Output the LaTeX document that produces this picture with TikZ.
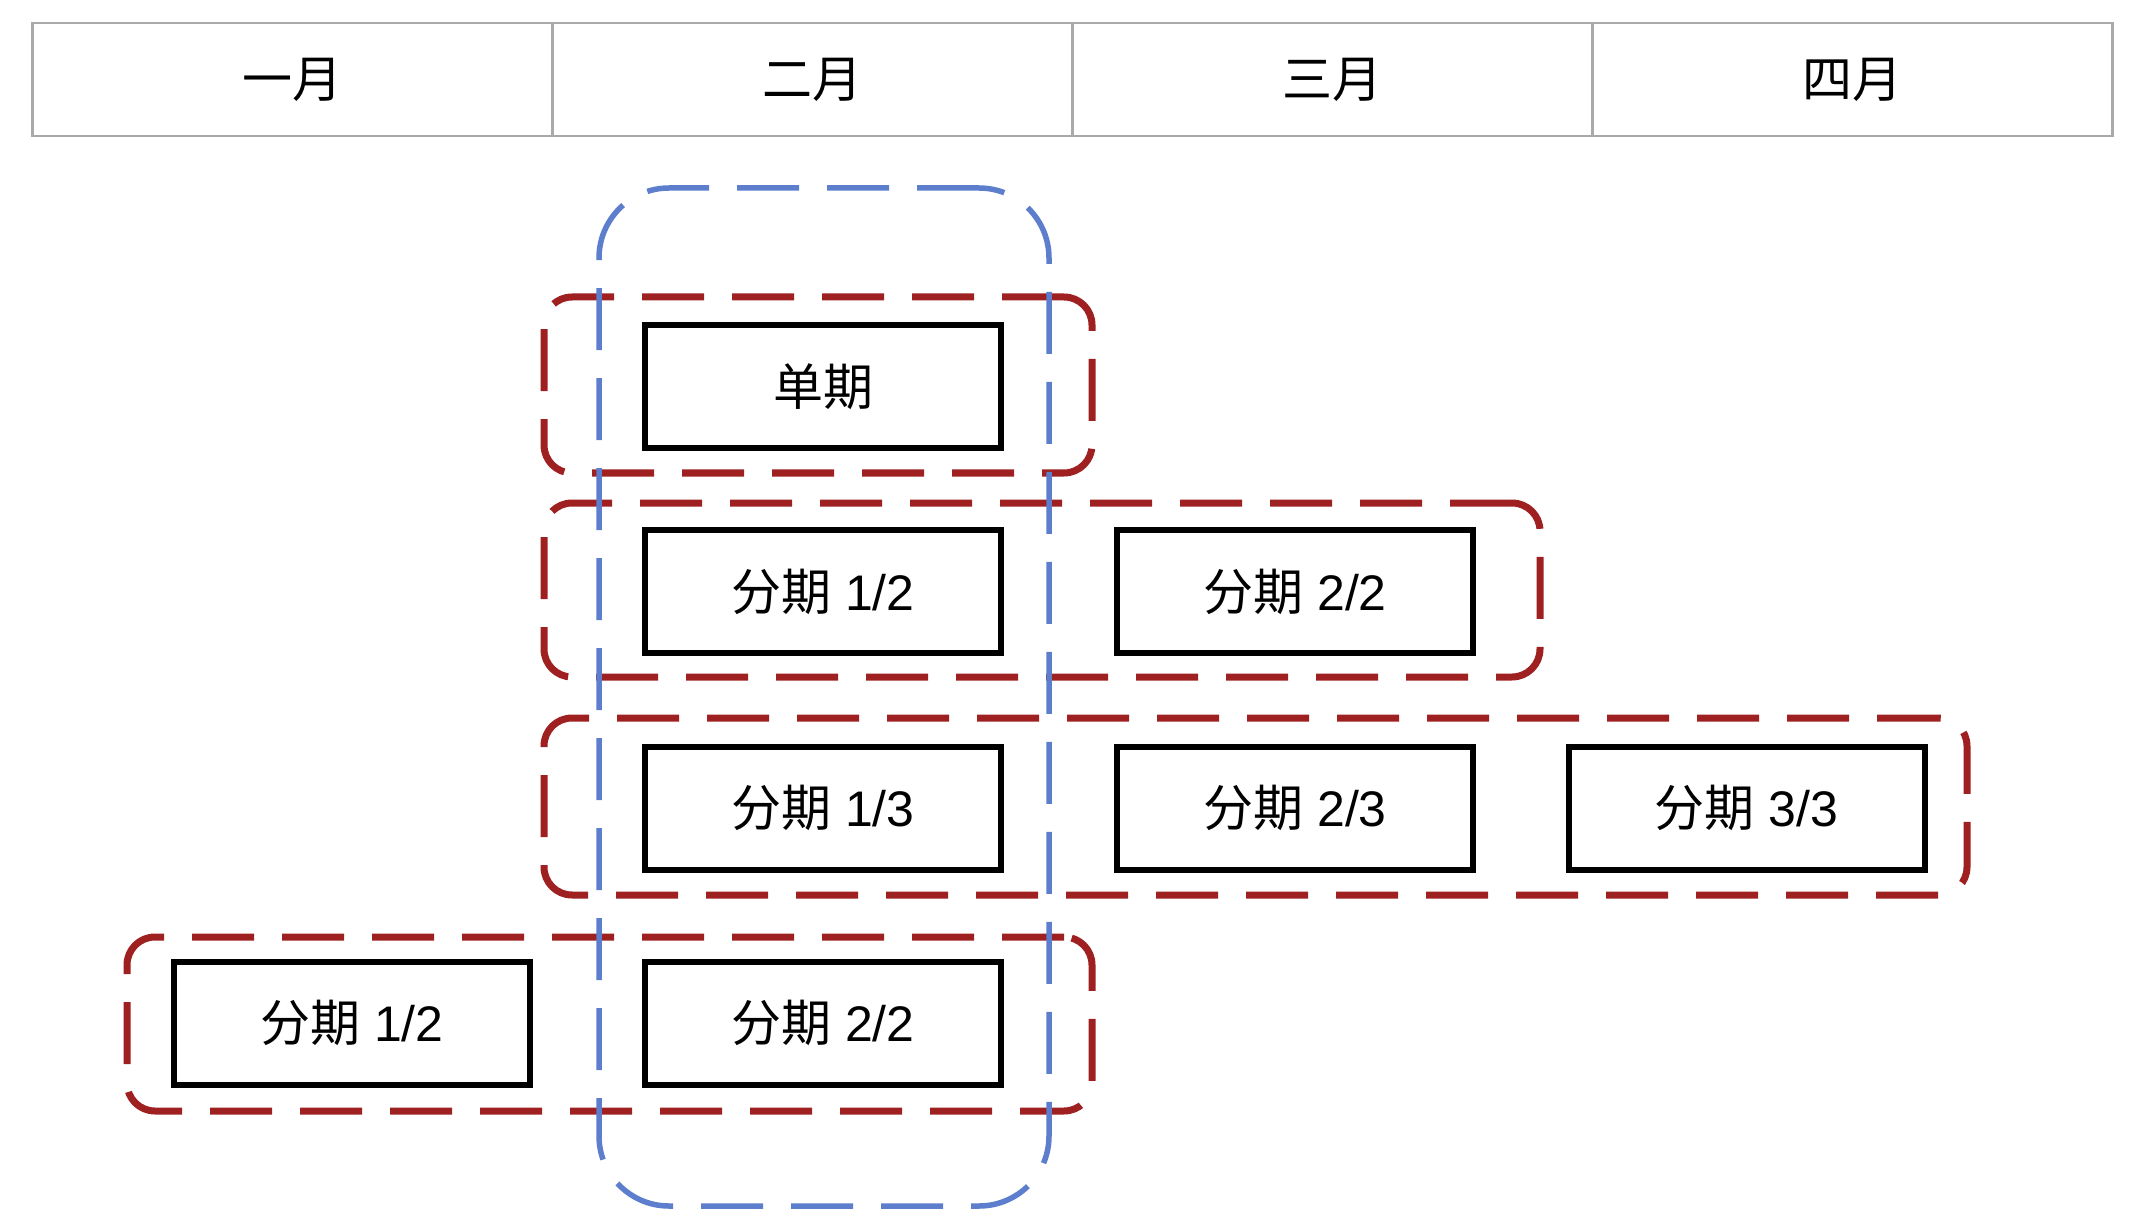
\documentclass[tikz,border=0pt]{standalone}
\usepackage{fontspec}
\setmainfont{Liberation Sans}
\newfontfamily\cjk{Noto Sans CJK SC}
\definecolor{grpred}{RGB}{158,32,32}
\definecolor{grpblue}{RGB}{92,126,204}
\definecolor{hdrgray}{RGB}{170,170,170}
\begin{document}
\begin{tikzpicture}[x=1pt,y=-1pt,
  hdrcell/.style={draw=hdrgray,line width=2.5pt,minimum width=520pt,minimum height=113pt,inner sep=0pt,font=\fontsize{50}{54}\selectfont\cjk},
  itembox/.style={draw=black,line width=6pt,fill=white,minimum width=356pt,minimum height=123pt,inner sep=0pt,font=\fontsize{50}{54}\selectfont},
  redgrp/.style={draw=grpred,line width=7pt,dash pattern=on 62pt off 28pt,rounded corners=28pt,inner sep=0pt},
  bluegrp/.style={draw=grpblue,line width=5.5pt,dash pattern=on 62pt off 28pt,rounded corners=70pt,inner sep=0pt}]
\useasboundingbox (0,0) rectangle (2148,1214);
% header
\node[hdrcell] (m1) at (292.5,79.5) {\raisebox{-3pt}{一月}};
\node[hdrcell] (m2) at (812.5,79.5) {\raisebox{-3pt}{二月}};
\node[hdrcell] (m3) at (1332.5,79.5) {\raisebox{-3pt}{三月}};
\node[hdrcell] (m4) at (1852.5,79.5) {\raisebox{-3pt}{四月}};
% red groups
\node[redgrp,minimum width=548pt,minimum height=176pt] (g1) at (818,385) {};
\node[redgrp,minimum width=996pt,minimum height=174pt] (g2) at (1042,590) {};
\node[redgrp,minimum width=1423pt,minimum height=177pt] (g3) at (1255.5,806.5) {};
\node[redgrp,minimum width=965pt,minimum height=174pt] (g4) at (609.5,1024) {};
% blue group
\node[bluegrp,minimum width=450pt,minimum height=1018pt] (bg) at (824,697) {};
% items
\node[itembox] (s1) at (823,386.5) {{\cjk 单期}};
\node[itembox] (a12) at (823,591.5) {{\cjk 分期} 1/2};
\node[itembox] (a22) at (1295,591.5) {{\cjk 分期} 2/2};
\node[itembox] (b13) at (823,808) {{\cjk 分期} 1/3};
\node[itembox] (b23) at (1295,808) {{\cjk 分期} 2/3};
\node[itembox] (b33) at (1746.5,808) {{\cjk 分期} 3/3};
\node[itembox] (c12) at (352,1023) {{\cjk 分期} 1/2};
\node[itembox] (c22) at (823,1023) {{\cjk 分期} 2/2};
\end{tikzpicture}
\end{document}
